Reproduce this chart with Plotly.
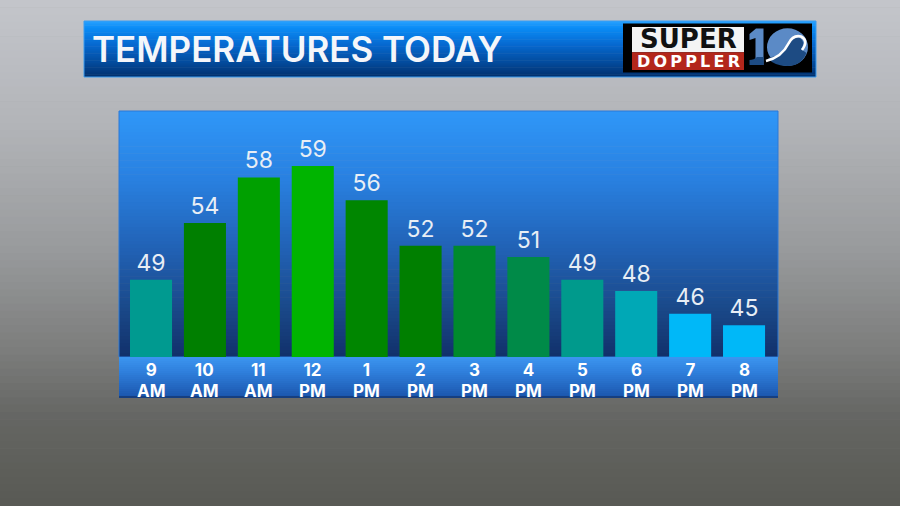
import plotly.graph_objects as go

W, H = 900, 506

# ---- data ----
hours = ["9", "10", "11", "12", "1", "2", "3", "4", "5", "6", "7", "8"]
periods = ["AM", "AM", "AM", "PM", "PM", "PM", "PM", "PM", "PM", "PM", "PM", "PM"]
temps = [49, 54, 58, 59, 56, 52, 52, 51, 49, 48, 46, 45]
bar_colors = ["#009a90", "#007f00", "#00a000", "#00b400", "#008600", "#007f00",
              "#008a2c", "#008a48", "#009a8c", "#00a8b6", "#00b8f8", "#00b8f8"]
title_text = "TEMPERATURES TODAY"


def px(x):
    return x / W


def py(y):
    return 1 - y / H


def hex2rgb(h):
    h = h.lstrip("#")
    return tuple(int(h[i:i + 2], 16) for i in (0, 2, 4))


def interp(stops, pos):
    if pos <= stops[0][0]:
        return stops[0][1]
    for (p0, c0), (p1, c1) in zip(stops, stops[1:]):
        if p0 <= pos <= p1:
            t = (pos - p0) / (p1 - p0) if p1 > p0 else 0
            a, b = hex2rgb(c0), hex2rgb(c1)
            r = [round(a[k] + (b[k] - a[k]) * t) for k in range(3)]
            return "rgb(%d,%d,%d)" % tuple(r)
    return stops[-1][1]


shapes = []


def vgrad(x0, x1, y0, y1, stops, n):
    for i in range(n):
        a = y0 + (y1 - y0) * i / n
        b = y0 + (y1 - y0) * (i + 1) / n
        col = interp(stops, (a + b) / 2)
        shapes.append(dict(type="rect", xref="paper", yref="paper",
                           x0=px(x0), x1=px(x1), y0=py(a), y1=py(min(b + 0.6, y1)),
                           fillcolor=col, line=dict(width=0), layer="below"))


def rect(x0, y0, x1, y1, fill, line=None, lw=0):
    shapes.append(dict(type="rect", xref="paper", yref="paper",
                       x0=px(x0), x1=px(x1), y0=py(y1), y1=py(y0),
                       fillcolor=fill, line=dict(width=lw, color=line or fill),
                       layer="below"))


def path(cmds, fill=None, line=None, lw=0):
    # cmds: list of (cmd, [(x,y),...]) -- one segment per command
    s = ""
    for cmd, pts in cmds:
        s += cmd + " ".join("%.5f,%.5f" % (px(x), py(y)) for x, y in pts) + " "
    d = dict(type="path", xref="paper", yref="paper", path=s.strip(), layer="below",
             line=dict(width=lw, color=line or "rgba(0,0,0,0)"))
    if fill:
        d["fillcolor"] = fill
    shapes.append(d)


# background gray gradient
vgrad(0, 900, 0, 506, [(0, "#c3c6cb"), (120, "#b3b5b9"), (250, "#989a9c"),
                       (350, "#7c7d7c"), (420, "#646562"), (506, "#585954")], 70)

# title bar
vgrad(84, 816, 21, 77, [(21, "#2aa2ff"), (28, "#0a8cf6"), (45, "#0668cf"),
                        (62, "#034c9e"), (77, "#012f6c")], 40)
rect(84, 21, 816, 77, "rgba(0,0,0,0)", line="#3a9cf0", lw=1)

# logo
rect(623, 23.5, 812, 72.5, "#000000")
rect(632, 27, 744, 52.3, "#f4f4f4")
rect(632, 52.3, 744, 70, "#b3261b")
# "1" of the 10
path([("M", [(749.5, 34)]), ("L", [(756, 28.5)]), ("L", [(763.5, 28.5)]), ("L", [(763.5, 65)]),
      ("L", [(755.5, 65)]), ("L", [(755.5, 38)]), ("L", [(749.5, 40)]), ("Z", [])],
     fill="#5b8ac6")
path([("M", [(749.5, 65)]), ("L", [(749.5, 60)]), ("Q", [(754, 60), (757, 57)]),
      ("L", [(763.5, 57)]), ("L", [(763.5, 65)]), ("Z", [])], fill="#1d4b83")
shapes.append(dict(type="circle", xref="paper", yref="paper",
                   x0=px(767), x1=px(808), y0=py(66), y1=py(28.3),
                   fillcolor="#5b8ac6", line=dict(width=0), layer="below"))
path([("M", [(768, 58)]), ("Q", [(783, 56), (789, 44)]), ("Q", [(793, 36), (800, 38)]),
      ("Q", [(806, 42), (801, 49)]), ("L", [(806.5, 53)]), ("Q", [(801, 66), (787.5, 66)]),
      ("Q", [(774, 66), (768, 58)]), ("Z", [])], fill="#1d4b83")
path([("M", [(766, 61)]), ("Q", [(782, 57), (788.5, 43.5)]), ("Q", [(793, 34.5), (801, 36.5)]),
      ("Q", [(809, 40.5), (802, 50)])], line="#ffffff", lw=2.6)

# chart panel
vgrad(119, 778, 111, 357, [(111, "#2f97f8"), (180, "#2980e0"), (250, "#2161b4"),
                           (310, "#1a4888"), (357, "#11306a")], 70)
rect(119, 111, 778, 357, "rgba(0,0,0,0)", line="#2a78d8", lw=1)
# label strip
vgrad(119, 778, 357, 397, [(357, "#3c95f0"), (372, "#2f7fdc"), (397, "#1b56ad")], 20)
rect(119, 396, 778, 398, "#163f80")

fig = go.Figure()
fig.add_trace(go.Bar(
    x=list(range(len(temps))), y=temps,
    marker=dict(color=bar_colors, line=dict(width=0)),
    width=0.78,
    text=[str(t) for t in temps], textposition="outside",
    textfont=dict(family="Inter", size=23, color="#e8eef5"),
    cliponaxis=False, hoverinfo="skip",
))

annotations = []
for i, (h, p) in enumerate(zip(hours, periods)):
    # tight two-line label: line spacing from 16px base (1.3em = 20.8px), glyphs at 17px
    annotations.append(dict(
        x=i, xref="x", y=py(380), yref="paper",
        text='<span style="font-size:17px">%s</span><br><span style="font-size:17px">%s</span>' % (h, p),
        showarrow=False, xanchor="center", yanchor="middle",
        font=dict(family="Inter", size=16, color="#ffffff", weight="bold")))

annotations.append(dict(x=px(90), xref="paper", y=py(48.5), yref="paper", text=title_text,
                        showarrow=False, xanchor="left", yanchor="middle",
                        font=dict(family="Inter", size=35, color="#f4f6fa", weight=600)))
annotations.append(dict(x=px(688), xref="paper", y=py(39), yref="paper", text="SUPER",
                        showarrow=False, xanchor="center", yanchor="middle",
                        font=dict(family="DejaVu Sans", size=26, color="#111111", weight="bold")))
annotations.append(dict(x=px(688), xref="paper", y=py(61.5), yref="paper",
                        text="D\u2009O\u2009P\u2009P\u2009L\u2009E\u2009R",
                        showarrow=False, xanchor="center", yanchor="middle",
                        font=dict(family="DejaVu Sans", size=16, color="#ffffff", weight="bold")))

fig.update_layout(
    width=W, height=H, autosize=False,
    margin=dict(l=0, r=0, t=0, b=0),
    paper_bgcolor="#999999", plot_bgcolor="rgba(0,0,0,0)",
    showlegend=False,
    shapes=shapes, annotations=annotations,
    xaxis=dict(domain=[px(119), px(778)], range=[-0.594, 11.63], visible=False, fixedrange=True),
    yaxis=dict(domain=[py(357), py(111)], range=[42.2, 63.85], visible=False, fixedrange=True),
)

fig.write_html("out.html", config={"displayModeBar": False},
               post_script="document.body.style.margin='0';document.body.style.overflow='hidden';")
